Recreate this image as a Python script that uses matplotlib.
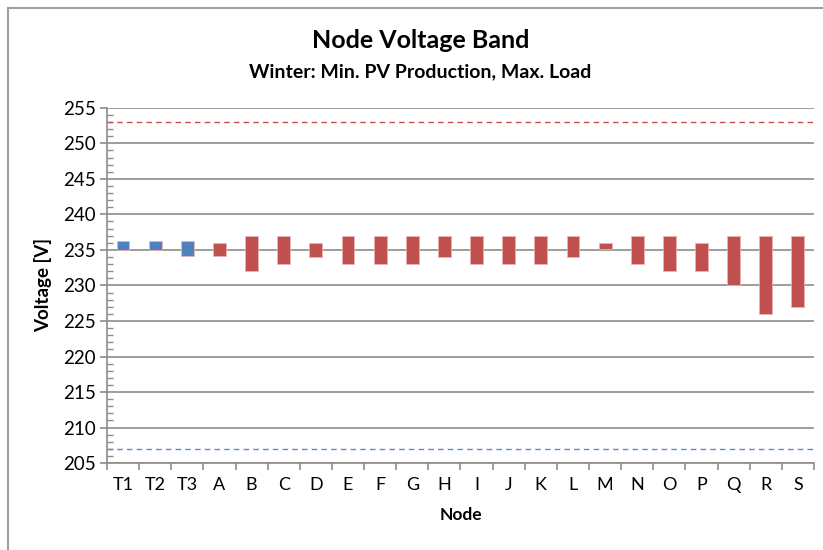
import matplotlib.pyplot as plt
from matplotlib.lines import Line2D
from matplotlib.ticker import MultipleLocator
import numpy as np

plt.rcParams['font.family'] = ['Lato', 'DejaVu Sans']

# Node voltage bands (min / max) in volts
nodes = ['T1', 'T2', 'T3', 'A', 'B', 'C', 'D', 'E', 'F', 'G', 'H',
         'I', 'J', 'K', 'L', 'M', 'N', 'O', 'P', 'Q', 'R', 'S']
v_min = [235, 235, 234.1, 234.1, 232.1, 233, 234, 233, 233, 233, 234,
         233, 233, 233, 234, 235.1, 233, 232, 232, 230, 226, 227]
v_max = [236.2, 236.2, 236.2, 236, 237, 237, 236, 237, 237, 237, 237,
         237, 237, 237, 237, 236, 237, 237, 236, 237, 237, 237]
transformers = ['T1', 'T2', 'T3']

upper_limit = 253
lower_limit = 207

blue = '#4F81BD'
red = '#C0504D'
grid_c = '#8C8C8C'

fig = plt.figure(figsize=(8.23, 5.5), dpi=100)
ax = fig.add_axes([0.130, 0.158, 0.859, 0.646])

x = np.arange(len(nodes))
colors = [blue if n in transformers else red for n in nodes]
heights = np.array(v_max) - np.array(v_min)
ax.bar(x, heights, bottom=v_min, width=0.4, color=colors,
       edgecolor='#E8B4B3', linewidth=0.6, zorder=3)

# voltage limits
ax.axhline(upper_limit, color=red, linestyle=(0, (4, 3)), linewidth=1.0, zorder=2)
ax.axhline(lower_limit, color='#5B8CCB', linestyle=(0, (4, 3)), linewidth=1.0, zorder=2)

ax.set_xlim(-0.5, len(nodes) - 0.5)
ax.set_ylim(205, 255)
ax.yaxis.set_major_locator(MultipleLocator(5))
ax.yaxis.set_minor_locator(MultipleLocator(1))
ax.set_xticks(x)
ax.set_xticklabels(nodes)
ax.set_xticks(np.arange(-0.5, len(nodes)), minor=True)
ax.tick_params(axis='x', which='major', length=0, pad=10, labelsize=13)
ax.tick_params(axis='x', which='minor', length=5, color=grid_c, width=1.2)
ax.tick_params(axis='y', which='major', length=5, color=grid_c, width=1.2,
               labelsize=13.5, pad=3)
ax.tick_params(axis='y', which='minor', length=4, direction='in',
               color=grid_c, width=1.0)

ax.grid(axis='y', which='major', color=grid_c, linewidth=1.2, zorder=1)
ax.set_axisbelow(True)
for side in ['top', 'right']:
    ax.spines[side].set_visible(False)
for side in ['left', 'bottom']:
    ax.spines[side].set_color(grid_c)
    ax.spines[side].set_linewidth(1.2)

ax.set_xlabel('Node', fontsize=12.5, fontweight='bold', labelpad=10)
ax.set_ylabel('Voltage [V]', fontsize=13.5, fontweight='bold', labelpad=8)

fig.text(0.511, 0.926, 'Node Voltage Band', ha='center', va='center',
         fontsize=18, fontweight='bold')
fig.text(0.511, 0.870, 'Winter: Min. PV Production, Max. Load', ha='center',
         va='center', fontsize=14, fontweight='bold')

# chart frame
fig.add_artist(Line2D([8 / 823, 1], [1 - 8 / 550, 1 - 8 / 550],
                      transform=fig.transFigure, color='#A0A0A0', linewidth=1.5))
fig.add_artist(Line2D([8 / 823, 8 / 823], [0, 1 - 8 / 550],
                      transform=fig.transFigure, color='#A0A0A0', linewidth=1.5))

fig.savefig('out.png', dpi=100)
